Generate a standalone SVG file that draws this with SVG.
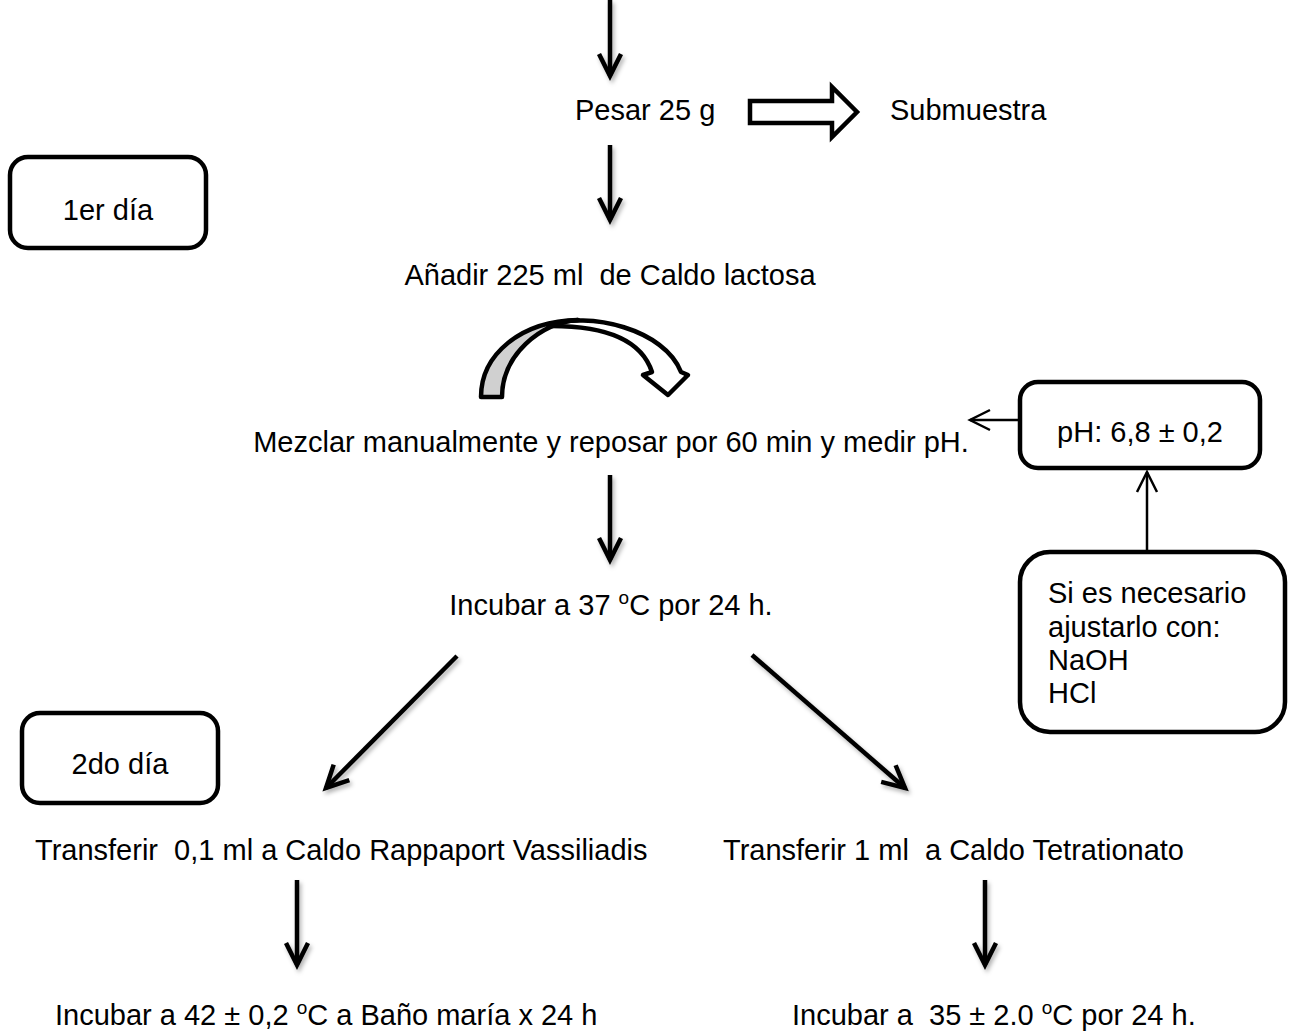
<svg xmlns="http://www.w3.org/2000/svg" width="1290" height="1036" viewBox="0 0 1290 1036">
<style>
text{font-family:"Liberation Sans",Arial,sans-serif;font-size:29px;fill:#000}
.box{fill:#fff;stroke:#000;stroke-width:4.5}
.thick{stroke:#000;stroke-width:4.5;fill:none}
.thin{stroke:#000;stroke-width:2.5;fill:none}
</style>
<defs>
<filter id="sh" x="-50%" y="-50%" width="200%" height="200%">
<feDropShadow dx="2" dy="3" stdDeviation="2" flood-color="#000" flood-opacity="0.3"/>
</filter>
<marker id="hk" markerUnits="userSpaceOnUse" markerWidth="34" markerHeight="34" refX="26" refY="14" orient="auto" overflow="visible">
<path d="M4,3 L26,14 L4,25" fill="none" stroke="#000" stroke-width="4.5" stroke-linejoin="miter"/>
</marker>
<marker id="hn" markerUnits="userSpaceOnUse" markerWidth="30" markerHeight="30" refX="22" refY="12" orient="auto" overflow="visible">
<path d="M2,2 L22,12 L2,22" fill="none" stroke="#000" stroke-width="2.5"/>
</marker>
</defs>

<g id="connectors">
<g filter="url(#sh)">
<line class="thick" x1="610" y1="0" x2="610" y2="76" marker-end="url(#hk)"/>
<line class="thick" x1="610" y1="145" x2="610" y2="220" marker-end="url(#hk)"/>
<line class="thick" x1="610" y1="475" x2="610" y2="560" marker-end="url(#hk)"/>
<line class="thick" x1="457" y1="656" x2="326" y2="788" marker-end="url(#hk)"/>
<line class="thick" x1="752" y1="655" x2="905" y2="788" marker-end="url(#hk)"/>
<line class="thick" x1="297" y1="880" x2="297" y2="965" marker-end="url(#hk)"/>
<line class="thick" x1="985" y1="880" x2="985" y2="965" marker-end="url(#hk)"/>
</g>
<path id="block-arrow" d="M750,101 L832,101 L832,87 L857,112 L832,137 L832,123 L750,123 Z" fill="#fff" stroke="#000" stroke-width="4.5" stroke-linejoin="miter"/>
<g id="curved-arrow" stroke="#000" stroke-width="4.5" stroke-linejoin="round">
<path d="M545,326 C590,310 665,330 681,372 L688,375 L668,395 L643,375 L652,372 C640,335 595,325 545,326 Z" fill="#fff"/>
<path d="M481,397 C481,355 520,321 578,320 C540,323 502,355 502,397 Z" fill="#d0d0d0"/>
</g>
<line class="thin" x1="1020" y1="420" x2="970" y2="420" marker-end="url(#hn)"/>
<line class="thin" x1="1147" y1="553" x2="1147" y2="472" marker-end="url(#hn)"/>
</g>

<g id="n-pesar"><text x="575" y="120">Pesar 25 g</text></g>
<g id="n-submuestra"><text x="890" y="120">Submuestra</text></g>
<g id="n-dia1">
<rect class="box" x="10" y="157" width="196" height="91" rx="18"/>
<text x="108" y="220" text-anchor="middle">1er día</text>
</g>
<g id="n-anadir"><text x="610" y="285" text-anchor="middle" xml:space="preserve">Añadir 225 ml  de Caldo lactosa</text></g>
<g id="n-mezclar"><text x="611" y="452" text-anchor="middle">Mezclar manualmente y reposar por 60 min y medir pH.</text></g>
<g id="n-ph">
<rect class="box" x="1020" y="382" width="240" height="86" rx="18"/>
<text x="1140" y="442" text-anchor="middle">pH: 6,8 ± 0,2</text>
</g>
<g id="n-ajuste">
<rect class="box" x="1020" y="552" width="265" height="180" rx="30"/>
<text x="1048" y="603">Si es necesario</text>
<text x="1048" y="637">ajustarlo con:</text>
<text x="1048" y="670">NaOH</text>
<text x="1048" y="703">HCl</text>
</g>
<g id="n-incubar37"><text x="611" y="615" text-anchor="middle">Incubar a 37 <tspan font-size="19" dy="-11">o</tspan><tspan dy="11">C por 24 h.</tspan></text></g>
<g id="n-dia2">
<rect class="box" x="22" y="713" width="196" height="90" rx="18"/>
<text x="120" y="774" text-anchor="middle">2do día</text>
</g>
<g id="n-rv"><text x="35" y="860" xml:space="preserve">Transferir  0,1 ml a Caldo Rappaport Vassiliadis</text></g>
<g id="n-tt"><text x="723" y="860" xml:space="preserve">Transferir 1 ml  a Caldo Tetrationato</text></g>
<g id="n-incubar42"><text x="55" y="1025">Incubar a 42 ± 0,2 <tspan font-size="19" dy="-11">o</tspan><tspan dy="11">C a Baño maría x 24 h</tspan></text></g>
<g id="n-incubar35"><text x="792" y="1025" xml:space="preserve">Incubar a  35 ± 2.0 <tspan font-size="19" dy="-11">o</tspan><tspan dy="11">C por 24 h.</tspan></text></g>
</svg>
